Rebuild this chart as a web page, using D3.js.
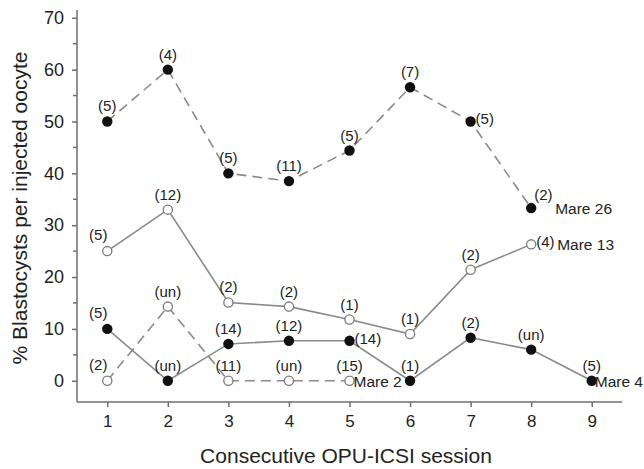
<!DOCTYPE html>
<html>
<head>
<meta charset="utf-8">
<script src="https://cdn.jsdelivr.net/npm/d3@7"></script>
<style>
  body { margin: 0; background: white; }
  text { font-family: "Liberation Sans", Arial, sans-serif; fill: #222; }
</style>
</head>
<body>
<div class="chart"></div>
<script>
const width = 644;
const height = 469;

// sessions on the x axis
const sessions = [1, 2, 3, 4, 5, 6, 7, 8, 9];
const yTicks = [0, 10, 20, 30, 40, 50, 60, 70];
const yMinorTicks = [5, 15, 25, 35, 45, 55, 65];

// % blastocysts per injected oocyte, per mare
const mare26 = [50, 60, 40, 38.5, 44.4, 56.6, 50, 33.3];
const mare13 = [25, 33, 15.1, 14.3, 11.8, 9, 21.4, 26.3];
const mare4 = [10, 0, 7.1, 7.7, 7.7, 0, 8.3, 6, 0];
const mare2 = [0, 14.3, 0, 0, 0];

// number labels shown next to each point
const mare26Counts = ['(5)', '(4)', '(5)', '(11)', '(5)', '(7)', '(5)', '(2)'];
const mare13Counts = ['(5)', '(12)', '(2)', '(2)', '(1)', '(1)', '(2)', '(4)'];
const mare4Counts = ['(5)', '(un)', '(14)', '(12)', '(14)', '(1)', '(2)', '(un)', '(5)'];
const mare2Counts = ['(2)', '(un)', '(11)', '(un)', '(15)'];

const seriesNames = ['Mare 26', 'Mare 13', 'Mare 4', 'Mare 2'];

// where each count label sits relative to its point
const placeCodes = {
  'Mare 26': ['a', 'a', 'a', 'a', 'a', 'a', 'r', 'ar'],
  'Mare 13': ['al', 'a', 'a', 'a', 'a', 'a', 'a', 'r'],
  'Mare 4': ['al', 'a', 'a', 'a', 'r', 'a', 'a', 'a', 'a'],
  'Mare 2': ['al', 'a', 'a', 'a', 'a'],
};

const series = [
  { name: seriesNames[0], values: mare26, counts: mare26Counts, filled: true, dashed: true },
  { name: seriesNames[1], values: mare13, counts: mare13Counts, filled: false, dashed: false },
  { name: seriesNames[2], values: mare4, counts: mare4Counts, filled: true, dashed: false },
  { name: seriesNames[3], values: mare2, counts: mare2Counts, filled: false, dashed: true },
];

const margin = { left: 77, right: 22, top: 10, bottom: 67 };

const svg = d3.select('div.chart').append('svg')
  .attr('width', width)
  .attr('height', height);

const scaleX = d3.scaleLinear()
  .domain([0.5, 9.5])
  .range([margin.left, width - margin.right]);

const scaleY = d3.scaleLinear()
  .domain([-4.1, 71.5])
  .range([height - margin.bottom, margin.top]);

const axisColor = '#6e6e6e';
const lineColor = '#8a8a8a';

// y axis
const yAxis = svg.append('g')
  .attr('transform', `translate(${margin.left}, 0)`)
  .call(d3.axisLeft(scaleY).tickValues(yTicks).tickSize(5).tickPadding(8));
yAxis.selectAll('.tick text').style('font-size', '18px').attr('fill', '#222');
yAxis.append('g').selectAll('line')
  .data(yMinorTicks)
  .enter()
  .append('line')
  .attr('x1', -4)
  .attr('x2', 0)
  .attr('y1', d => scaleY(d))
  .attr('y2', d => scaleY(d));

// x axis
const xAxis = svg.append('g')
  .attr('transform', `translate(0, ${scaleY.range()[0]})`)
  .call(d3.axisBottom(scaleX).tickValues(sessions).tickFormat(d3.format('d')).tickSize(5).tickPadding(8));
xAxis.selectAll('.tick text').style('font-size', '17px').attr('fill', '#222');

svg.selectAll('.domain, .tick line, g line')
  .attr('stroke', axisColor)
  .attr('stroke-width', 1.5);
// plain axis lines without end caps
yAxis.select('.domain').attr('d', `M0,${scaleY.range()[1]}V${scaleY.range()[0]}`);
xAxis.select('.domain').attr('d', `M${scaleX.range()[0]},0H${scaleX.range()[1]}`);

// axis titles
svg.append('text')
  .attr('x', 346)
  .attr('y', height - 6)
  .attr('text-anchor', 'middle')
  .style('font-size', '21px')
  .text('Consecutive OPU-ICSI session');

svg.append('text')
  .attr('transform', `translate(27, 208) rotate(-90)`)
  .attr('text-anchor', 'middle')
  .style('font-size', '21px')
  .text('% Blastocysts per injected oocyte');

// lines
const line = d3.line()
  .x((d, i) => scaleX(sessions[i]))
  .y(d => scaleY(d));

svg.append('g').selectAll('path')
  .data(series)
  .enter()
  .append('path')
  .attr('d', d => line(d.values))
  .attr('fill', 'none')
  .attr('stroke', lineColor)
  .attr('stroke-width', 1.6)
  .attr('stroke-dasharray', d => d.dashed ? '10,6' : null);

// points
series.forEach((s) => {
  svg.append('g').selectAll('circle')
    .data(s.values)
    .enter()
    .append('circle')
    .attr('cx', (d, i) => scaleX(sessions[i]))
    .attr('cy', d => scaleY(d))
    .attr('r', s.filled ? 5.2 : 4.6)
    .attr('fill', s.filled ? '#111' : 'white')
    .attr('stroke', s.filled ? 'none' : '#7a7a7a')
    .attr('stroke-width', 1.3);
});

// count labels
const offsets = {
  a: { dx: 0, dy: -10, anchor: 'middle' },
  al: { dx: -9, dy: -11, anchor: 'middle' },
  r: { dx: 5, dy: 3, anchor: 'start' },
  ar: { dx: 3, dy: -8, anchor: 'start' },
};

series.forEach((s) => {
  svg.append('g').selectAll('text')
    .data(s.counts)
    .enter()
    .append('text')
    .each(function (d, i) {
      const o = offsets[placeCodes[s.name][i]];
      d3.select(this)
        .attr('x', scaleX(sessions[i]) + o.dx)
        .attr('y', scaleY(s.values[i]) + o.dy)
        .attr('text-anchor', o.anchor);
    })
    .style('font-size', '15px')
    .text(d => d);
});

// series name labels at the end of each line
const nameOffsets = [
  { dx: 24, dy: 6 },
  { dx: 26, dy: 6 },
  { dx: 3, dy: 6 },
  { dx: 4, dy: 6 },
];
series.forEach((s, k) => {
  const last = s.values.length - 1;
  svg.append('text')
    .attr('x', scaleX(sessions[last]) + nameOffsets[k].dx)
    .attr('y', scaleY(s.values[last]) + nameOffsets[k].dy)
    .style('font-size', '15.5px')
    .text(s.name);
});
</script>
</body>
</html>
